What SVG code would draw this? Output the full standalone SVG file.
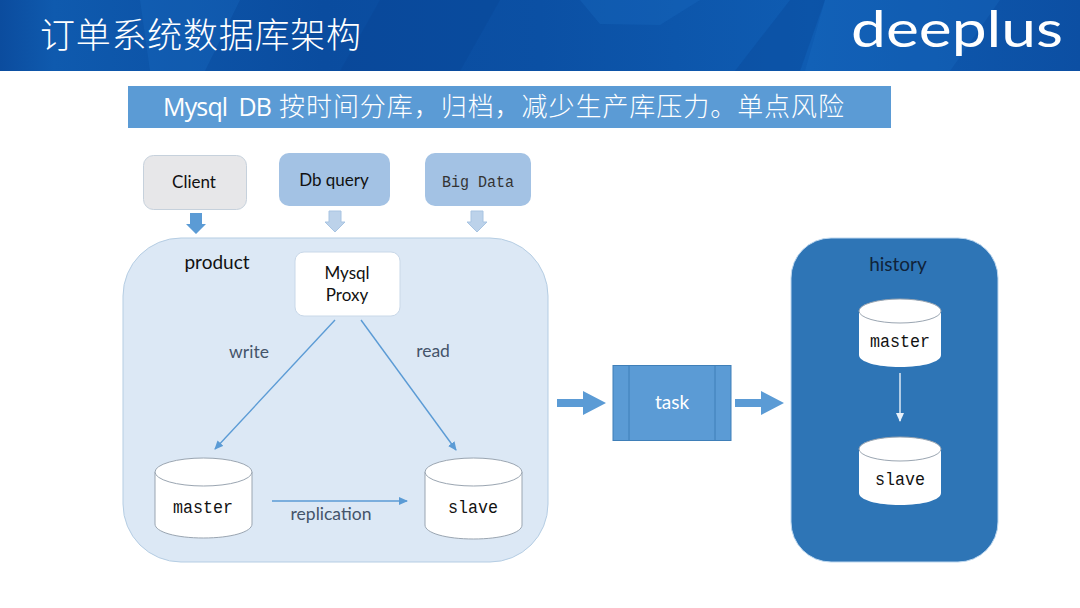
<svg xmlns="http://www.w3.org/2000/svg" width="1080" height="608" viewBox="0 0 1080 608">
<style>
.cjk{font-family:"Noto Sans CJK SC","Liberation Serif",serif;font-weight:300}
.sans{font-family:Lato,"Open Sans",sans-serif}
.mono{font-family:"Liberation Mono","DejaVu Sans Mono",monospace;font-size:18px;fill:#111;text-anchor:middle}
.lbl{font-size:17.500px;fill:#44546a;text-anchor:middle}
.blk{font-size:17px;fill:#111;text-anchor:middle}
.cyl{fill:#fff;stroke:#9aa5b1;stroke-width:1}
.cylh{fill:#fff;stroke:none}
.top{fill:#fff;stroke:#9aa5b1;stroke-width:1}
.ln{stroke:#5b9bd5;stroke-width:1.400;fill:none}
.fac{fill:#083f8e;opacity:.28}
.fal{fill:#1a6cc4;opacity:.3}
</style>
<defs>
<linearGradient id="hd" x1="0" y1="0" x2="1" y2="0">
<stop offset="0" stop-color="#0b4c9e"/><stop offset=".05" stop-color="#0f5aae"/><stop offset=".3" stop-color="#0a4c9f"/><stop offset=".5" stop-color="#0b50a4"/><stop offset=".75" stop-color="#0f5cb2"/><stop offset="1" stop-color="#0c4fa3"/>
</linearGradient>
<marker id="ab" markerWidth="10" markerHeight="8" refX="8" refY="4" orient="auto" markerUnits="userSpaceOnUse"><path d="M0 0L9 4L0 8Z" fill="#5b9bd5"/></marker>
<marker id="aw" markerWidth="10" markerHeight="8" refX="8" refY="4" orient="auto" markerUnits="userSpaceOnUse"><path d="M0 0L9 4L0 8Z" fill="#e8f1fa"/></marker>
</defs>
<rect width="1080" height="608" fill="#fff"/>
<g id="header">
<rect width="1080" height="71" fill="url(#hd)"/>
<path class="fal" d="M140 0H240L205 71H150Z"/>
<path class="fac" d="M380 0H500L460 71H340Z"/>
<path class="fal" d="M580 0H700L660 25L600 24Z"/>
<path class="fac" d="M790 0H825L800 71H735Z"/>
<path class="fal" d="M825 0H1000L950 71H805Z"/>
<text x="40" y="48" font-size="35" fill="#fff" class="cjk" textLength="321">订单系统数据库架构</text>
<text x="851" y="47" font-size="50" fill="#fff" font-family="Lato,sans-serif" font-weight="400" textLength="212" lengthAdjust="spacingAndGlyphs">deeplus</text>
</g>
<g id="banner">
<rect x="128" y="86" width="763" height="42" fill="#5b9bd5"/>
<text x="163" y="116" font-size="25" fill="#fff" font-family="Open Sans,sans-serif" textLength="109" xml:space="preserve">Mysql  DB</text>
<text x="279" y="116" font-size="26" fill="#fff" class="cjk" textLength="565">按时间分库，归档，减少生产库压力。单点风险</text>
</g>
<g id="product">
<rect x="123" y="238" width="425" height="324" rx="58" fill="#dce8f5" stroke="#b5cde3"/>
<text x="217" y="269" font-size="19" fill="#111" text-anchor="middle" class="sans">product</text>
</g>
<g id="history">
<rect x="791" y="238" width="207" height="324" rx="40" fill="#2e75b6" stroke="#bcd7ef"/>
<text x="898" y="271" font-size="19" fill="#10233a" text-anchor="middle" class="sans">history</text>
</g>
<g id="client">
<rect x="143.500" y="155.500" width="103" height="54" rx="10" fill="#e7e7e9" stroke="#c6d1dc"/>
<text x="194" y="188" class="blk sans">Client</text>
</g>
<g id="dbquery">
<rect x="279" y="153" width="111" height="53" rx="10" fill="#a3c2e4"/>
<text x="334" y="186" class="blk sans">Db query</text>
</g>
<g id="bigdata">
<rect x="425" y="153" width="106" height="53" rx="10" fill="#a3c2e4"/>
<text x="442" y="187" font-size="16" fill="#333" font-family="Liberation Mono,monospace" textLength="72" lengthAdjust="spacingAndGlyphs">Big Data</text>
</g>
<g id="proxy">
<rect x="295" y="252" width="105" height="64" rx="9" fill="#fff" stroke="#c9d8e8"/>
<text x="347" y="279" class="blk sans">Mysql</text>
<text x="347" y="301" class="blk sans">Proxy</text>
</g>
<g id="master">
<path class="cyl" d="M155 472V524C155 532 176 538 203.500 538S252 532 252 524V472Z"/>
<ellipse class="top" cx="203.500" cy="472" rx="48.500" ry="14"/>
<text x="203" y="513" class="mono" textLength="60" lengthAdjust="spacingAndGlyphs">master</text>
</g>
<g id="slave">
<path class="cyl" d="M425 472V525C425 533 446 539 473.500 539S522 533 522 525V472Z"/>
<ellipse class="top" cx="473.500" cy="472" rx="48.500" ry="14"/>
<text x="473" y="513" class="mono" textLength="50" lengthAdjust="spacingAndGlyphs">slave</text>
</g>
<g id="task">
<rect x="613" y="365.500" width="118" height="75" fill="#5b9bd5" stroke="#3f7fb8"/>
<path d="M629 366V440M715 366V440" stroke="#3f7fb8" fill="none"/>
<text x="672" y="409" font-size="19" fill="#fff" text-anchor="middle" class="sans">task</text>
</g>
<g id="history-master">
<path class="cylh" d="M859 311V355C859 362 877 367 900 367S941 362 941 355V311Z"/>
<ellipse cx="900" cy="311" rx="41" ry="12" fill="#fff" stroke="#9aa5b1"/>
<text x="900" y="347" class="mono" textLength="60" lengthAdjust="spacingAndGlyphs">master</text>
</g>
<g id="history-slave">
<path class="cylh" d="M859 449V493C859 500 877 505 900 505S941 500 941 493V449Z"/>
<ellipse cx="900" cy="449" rx="41" ry="12" fill="#fff" stroke="#9aa5b1"/>
<text x="900" y="485" class="mono" textLength="50" lengthAdjust="spacingAndGlyphs">slave</text>
</g>
<g id="connectors">
<path d="M190 213H202V224H206L196 234L186 224H190Z" fill="#5b9bd5"/>
<path d="M329 211H341V222H345L335 232L325 222H329Z" fill="#bcd2ea" stroke="#a8c4e2"/>
<path d="M471 211H483V222H487L477 232L467 222H471Z" fill="#bcd2ea" stroke="#a8c4e2"/>
<path class="ln" d="M335 320L215 449" marker-end="url(#ab)"/>
<path class="ln" d="M361 320L456 450" marker-end="url(#ab)"/>
<path class="ln" d="M272 501H407" marker-end="url(#ab)"/>
<path d="M900 373V421" stroke="#e8f1fa" stroke-width="1.400" marker-end="url(#aw)"/>
<path d="M557 399H583V391L606 403L583 415V407H557Z" fill="#5b9bd5"/>
<path d="M735 399H761V391L784 403L761 415V407H735Z" fill="#5b9bd5"/>
<text x="249" y="358" class="lbl sans">write</text>
<text x="433" y="357" class="lbl sans">read</text>
<text x="331" y="520" class="lbl sans">replication</text>
</g>
</svg>
